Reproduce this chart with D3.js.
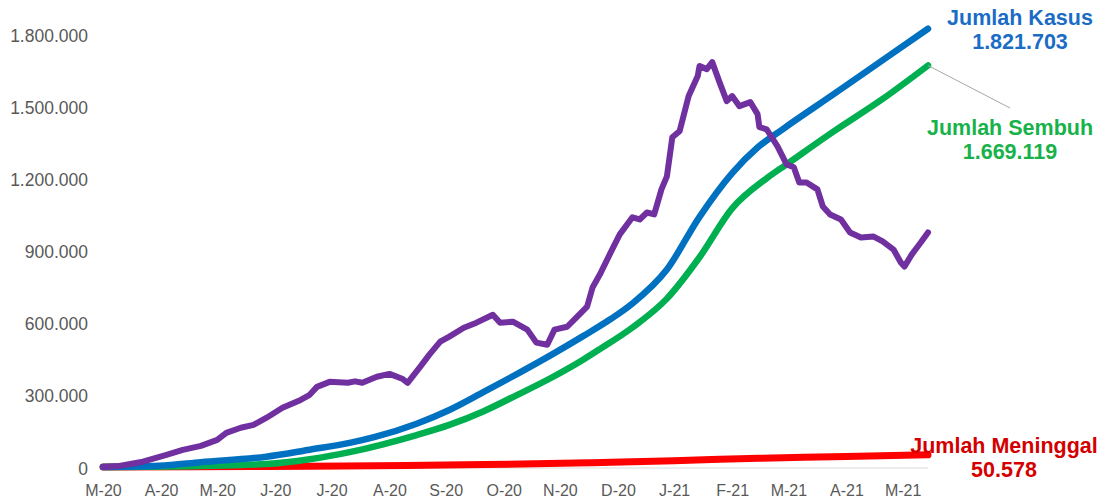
<!DOCTYPE html>
<html><head><meta charset="utf-8">
<script src="https://cdn.jsdelivr.net/npm/d3@7/dist/d3.min.js"></script>
<style>
html,body{margin:0;padding:0;background:#fff;}
svg{display:block;font-family:"Liberation Sans",Arial,sans-serif;}
</style></head>
<body><svg id="chart" width="1105" height="501"></svg>
<script>
// ---- data (day index from start of series, value) ----
const xTickDays = [0,32,63,95,126,158,189,221,252,284,315,347,378,410,441];
const xTickLabels = ["M-20","A-20","M-20","J-20","J-20","A-20","S-20","O-20","N-20","D-20","J-21","F-21","M-21","A-21","M-21"];
const yTicks = [0,300000,600000,900000,1200000,1500000,1800000];

const kasus = [[0,0],[31,5000],[54,20000],[90,43000],[114,72000],[136,100000],[150,125000],[173,180000],[191,237000],[210,312000],[228,385000],[247,465000],[265,545000],[280,615000],[292,680000],[311,821000],[329,1040000],[347,1222000],[361,1328000],[375,1405000],[403,1550000],[434,1712000],[455,1821703]];
const sembuh = [[0,0],[54,4000],[90,12000],[114,32000],[136,62000],[173,133000],[191,175000],[210,232000],[228,298000],[247,370000],[265,447000],[274,490000],[292,580000],[311,700000],[329,872000],[347,1075000],[366,1200000],[377,1258000],[403,1395000],[430,1530000],[455,1669119]];
const meninggal = [[0,0],[50,800],[90,2500],[150,5500],[210,10000],[270,18000],[315,25500],[340,32000],[375,38000],[410,44000],[455,50578]];
const aktif = [[0,0],[9,4000],[22,22000],[35,50000],[44,71000],[54,88000],[63,113000],[68,142000],[76,163000],[83,175000],[90,204000],[99,246000],[109,279000],[114,300000],[118,333000],[125,354000],[130,352000],[135,350000],[139,356000],[143,350000],[151,375000],[158,387000],[165,367000],[168,350000],[175,417000],[180,467000],[186,521000],[191,542000],[199,579000],[206,600000],[215,633000],[219,600000],[226,604000],[234,571000],[239,517000],[245,508000],[249,571000],[256,583000],[261,621000],[267,667000],[270,746000],[274,800000],[280,892000],[285,967000],[292,1038000],[296,1029000],[300,1058000],[304,1050000],[308,1154000],[311,1208000],[314,1371000],[318,1396000],[323,1542000],[328,1625000],[329,1667000],[333,1654000],[336,1683000],[340,1600000],[344,1521000],[347,1542000],[351,1500000],[357,1517000],[361,1467000],[362,1413000],[366,1404000],[372,1333000],[377,1258000],[381,1246000],[384,1183000],[388,1183000],[394,1154000],[397,1083000],[401,1050000],[407,1029000],[412,975000],[418,954000],[425,958000],[430,938000],[436,904000],[440,850000],[442,833000],[446,883000],[451,933000],[455,975000]];

const seriesNames = ["Jumlah Kasus","Jumlah Sembuh","Jumlah Meninggal"];

// ---- drawing ----
const svg = d3.select("#chart");
const x = d3.scaleLinear().domain([0,455]).range([103,928]);
const y = d3.scaleLinear().domain([0,1800000]).range([467,34]);
const locale = d3.formatLocale({decimal:",",thousands:".",grouping:[3],currency:["",""]});
const fmt = locale.format(",d");

// y axis labels
const gy = svg.append("g").attr("transform","translate(88,0)")
  .call(d3.axisLeft(y).tickValues(yTicks).tickSize(0).tickPadding(0).tickFormat(fmt));
gy.select(".domain").remove();
gy.selectAll("text").attr("fill","#595959").style("font-size","17.5px").attr("dy","0.4em");

// x baseline
svg.append("line").attr("x1",x(0)).attr("x2",x(455)).attr("y1",468).attr("y2",468)
  .attr("stroke","#d9d9d9").attr("stroke-width",1.2);

const gx = svg.append("g").attr("transform","translate(0,468)")
  .call(d3.axisBottom(x).tickValues(xTickDays).tickSize(0).tickFormat((d,i)=>xTickLabels[i]));
gx.select(".domain").remove();
gx.selectAll("text").attr("fill","#595959").style("font-size","16px").attr("y",17);

const smooth = d3.line().x(d=>x(d[0])).y(d=>y(d[1])).curve(d3.curveMonotoneX);
const rough = d3.line().x(d=>x(d[0])).y(d=>y(d[1]));

function draw(data, gen, color, w){
  svg.append("path").datum(data).attr("d",gen).attr("fill","none")
    .attr("stroke",color).attr("stroke-width",w)
    .attr("stroke-linecap","round").attr("stroke-linejoin","round");
}
draw(meninggal, smooth, "#ff0000", 7);
draw(sembuh, smooth, "#00b050", 6.5);
draw(kasus, smooth, "#0070c0", 6.5);
draw(aktif, rough, "#7030a0", 6);

// leader line for Sembuh
const lastS = sembuh[sembuh.length-1];
svg.append("line").attr("x1",x(lastS[0])).attr("y1",y(lastS[1]))
  .attr("x2",1010).attr("y2",108).attr("stroke","#a6a6a6").attr("stroke-width",1);

// annotations
function label(cx, y1, name, val, color){
  const t = svg.append("text").attr("text-anchor","middle").attr("fill",color)
    .style("font-size","21.5px").style("font-weight","bold");
  t.append("tspan").attr("x",cx).attr("y",y1).text(name);
  t.append("tspan").attr("x",cx).attr("y",y1+24).text(fmt(val));
}
label(1020, 25, seriesNames[0], kasus[kasus.length-1][1], "#1a6cc6");
label(1010, 135, seriesNames[1], lastS[1], "#17b24a");
label(1004, 453, seriesNames[2], meninggal[meninggal.length-1][1], "#d40000");
</script></body></html>
